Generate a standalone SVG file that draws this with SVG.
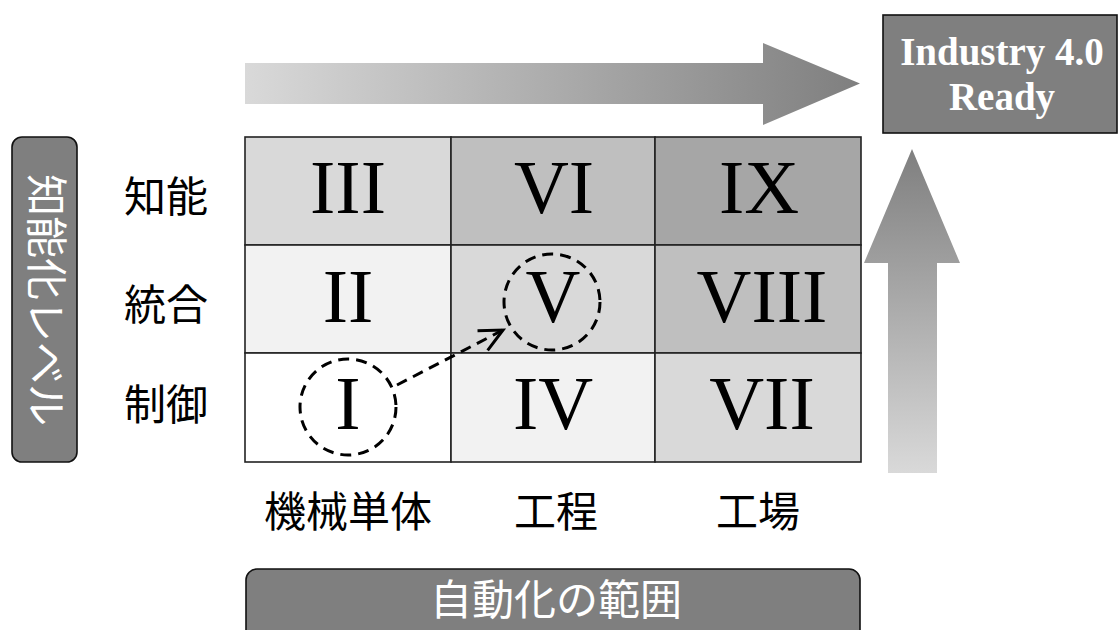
<svg xmlns="http://www.w3.org/2000/svg" width="1118" height="630" viewBox="0 0 1118 630">
<style>
.cell{stroke:#222;stroke-width:1.6}
.num{font-family:"Liberation Serif",serif;font-size:76px;fill:#000;text-anchor:middle}
.lbl{font-family:"Noto Sans CJK JP",sans-serif;font-size:42px;fill:#000;text-anchor:middle}
.wlbl{font-family:"Noto Sans CJK JP",sans-serif;font-size:42px;fill:#fff;text-anchor:middle}
.box{fill:#7f7f7f;stroke:#111;stroke-width:1.6}
.dash{fill:none;stroke:#000;stroke-width:3;stroke-dasharray:11 7}
</style>
<defs>
<linearGradient id="gh" x1="245" y1="0" x2="860" y2="0" gradientUnits="userSpaceOnUse">
<stop offset="0" stop-color="#d9d9d9"/><stop offset="1" stop-color="#7f7f7f"/>
</linearGradient>
<linearGradient id="gv" x1="0" y1="149" x2="0" y2="473" gradientUnits="userSpaceOnUse">
<stop offset="0" stop-color="#7f7f7f"/><stop offset="1" stop-color="#d9d9d9"/>
</linearGradient>
<marker id="open" markerUnits="userSpaceOnUse" markerWidth="28" markerHeight="28" viewBox="0 0 28 28" refX="25" refY="14" orient="auto">
<path d="M2,3 L25,14 L2,25" fill="none" stroke="#000" stroke-width="3" stroke-dasharray="none"/>
</marker>
</defs>

<g id="arrow-top"><polygon points="245,63 763,63 763,43 860,83.5 763,125 763,104 245,104" fill="url(#gh)"/></g>
<g id="arrow-right"><polygon points="912,149 960,263 937,263 937,473 888,473 888,263 864,263" fill="url(#gv)"/></g>

<g id="industry">
<rect class="box" x="883" y="15" width="234" height="118"/>
<text x="1002" y="65" font-family="Liberation Serif,serif" font-size="39" font-weight="bold" fill="#fff" text-anchor="middle">Industry 4.0</text>
<text x="1002" y="110" font-family="Liberation Serif,serif" font-size="39" font-weight="bold" fill="#fff" text-anchor="middle">Ready</text>
</g>

<g id="level-label">
<rect class="box" x="12" y="137" width="65" height="325" rx="10"/>
<text class="wlbl" transform="translate(45,300) rotate(90)" x="0" y="14">知能化レベル</text>
</g>

<g id="row-labels">
<text class="lbl" x="166" y="212">知能</text>
<text class="lbl" x="166" y="320">統合</text>
<text class="lbl" x="166" y="420">制御</text>
</g>

<g id="col-labels">
<text class="lbl" x="348" y="527">機械単体</text>
<text class="lbl" x="556" y="527">工程</text>
<text class="lbl" x="758" y="527">工場</text>
</g>

<g id="scope-label">
<rect class="box" x="246" y="569" width="614" height="90" rx="11"/>
<text class="wlbl" x="556" y="615">自動化の範囲</text>
</g>

<g id="cell-III"><rect class="cell" x="245" y="137" width="206" height="108" fill="#d9d9d9"/><text class="num" x="348" y="213">III</text></g>
<g id="cell-VI"><rect class="cell" x="451" y="137" width="204" height="108" fill="#bfbfbf"/><text class="num" x="554" y="213">VI</text></g>
<g id="cell-IX"><rect class="cell" x="655" y="137" width="206" height="108" fill="#a6a6a6"/><text class="num" x="759" y="213">IX</text></g>
<g id="cell-II"><rect class="cell" x="245" y="245" width="206" height="108" fill="#f2f2f2"/><text class="num" x="348" y="322">II</text></g>
<g id="cell-V"><rect class="cell" x="451" y="245" width="204" height="108" fill="#d9d9d9"/><text class="num" x="553" y="322">V</text></g>
<g id="cell-VIII"><rect class="cell" x="655" y="245" width="206" height="108" fill="#bfbfbf"/><text class="num" x="762" y="322">VIII</text></g>
<g id="cell-I"><rect class="cell" x="245" y="353" width="206" height="109" fill="#ffffff"/><text class="num" x="348" y="429">I</text></g>
<g id="cell-IV"><rect class="cell" x="451" y="353" width="204" height="109" fill="#f2f2f2"/><text class="num" x="553" y="429">IV</text></g>
<g id="cell-VII"><rect class="cell" x="655" y="353" width="206" height="109" fill="#d9d9d9"/><text class="num" x="762" y="429">VII</text></g>

<g id="highlight-I"><circle class="dash" cx="348" cy="407" r="48"/></g>
<g id="highlight-V"><circle class="dash" cx="552" cy="302" r="48"/></g>

<g id="connectors">
<line class="dash" x1="397" y1="385" x2="503" y2="330" marker-end="url(#open)"/>
</g>
</svg>
